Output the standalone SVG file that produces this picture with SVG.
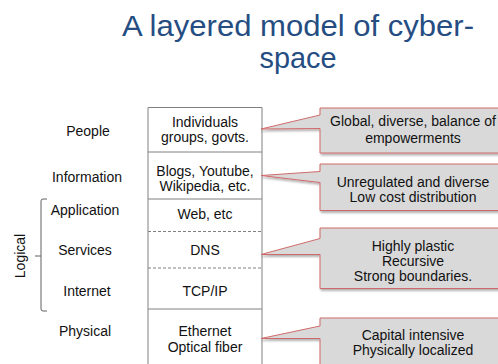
<svg xmlns="http://www.w3.org/2000/svg" width="498" height="364" viewBox="0 0 498 364">
<style>
text{font-family:"Liberation Sans",Arial,sans-serif;fill:#111;}
.t{font-size:14px;text-anchor:middle;}
.title{font-size:29px;fill:#254d82;text-anchor:middle;}
.solid{stroke:#808080;stroke-width:1;fill:none;}
.dash{stroke:#808080;stroke-width:1;stroke-dasharray:3,2;fill:none;}
.call{fill:#d9d9d9;stroke:#d06a6a;stroke-width:1;filter:url(#sh);}
</style>
<defs>
<filter id="sh" x="-10%" y="-10%" width="130%" height="140%">
<feDropShadow dx="1" dy="2" stdDeviation="1.2" flood-color="#000" flood-opacity="0.3"/>
</filter>
</defs>
<rect width="498" height="364" fill="#fff"/>
<g id="title">
<text class="title" x="298" y="36" textLength="352" lengthAdjust="spacingAndGlyphs">A layered model of cyber-</text>
<text class="title" x="298" y="68" textLength="77" lengthAdjust="spacingAndGlyphs">space</text>
</g>
<g id="labels">
<text class="t" x="88" y="136">People</text>
<text class="t" x="87" y="182">Information</text>
<text class="t" x="85" y="215">Application</text>
<text class="t" x="85" y="255">Services</text>
<text class="t" x="87" y="296">Internet</text>
<text class="t" x="85" y="336">Physical</text>
</g>
<g id="logical">
<path d="M47,199 L43,199 Q41,199 41,201 V309 Q41,311 43,311 L47,311 M41,256 L35,256" stroke="#606060" stroke-width="1" fill="none"/>
<text class="t" transform="translate(25,256) rotate(-90)" x="0" y="0">Logical</text>
</g>
<g id="stack">
<path class="solid" d="M148,370 V107.5 H262 V370 M148,152 H262 M148,199 H262 M148,309 H262"/>
<path class="dash" d="M148,231.5 H262 M148,268 H262"/>
<text class="t" x="205" y="127">Individuals</text>
<text class="t" x="205" y="142">groups, govts.</text>
<text class="t" x="205" y="176">Blogs, Youtube,</text>
<text class="t" x="205" y="191">Wikipedia, etc.</text>
<text class="t" x="205" y="219">Web, etc</text>
<text class="t" x="205" y="255">DNS</text>
<text class="t" x="205" y="296">TCP/IP</text>
<text class="t" x="205" y="336">Ethernet</text>
<text class="t" x="205" y="352">Optical fiber</text>
</g>
<g id="callout1">
<path class="call" d="M320,108 H510 V153 H320 V128.5 L261,129 L320,115 Z"/>
<text class="t" x="413" y="126">Global, diverse, balance of</text>
<text class="t" x="413" y="143">empowerments</text>
</g>
<g id="callout2">
<path class="call" d="M320,164 H510 V210.5 H320 V182.5 L261,175.5 L320,171.5 Z"/>
<text class="t" x="413" y="187">Unregulated and diverse</text>
<text class="t" x="413" y="202">Low cost distribution</text>
</g>
<g id="callout3">
<path class="call" d="M320,228 H510 V288.5 H320 V254.5 L261,254.5 L320,238.5 Z"/>
<text class="t" x="413" y="251">Highly plastic</text>
<text class="t" x="413" y="266">Recursive</text>
<text class="t" x="413" y="281">Strong boundaries.</text>
</g>
<g id="callout4">
<path class="call" d="M320,318 H510 V375 H320 V338.5 L261,338.5 L320,326 Z"/>
<text class="t" x="413" y="340">Capital intensive</text>
<text class="t" x="413" y="355">Physically localized</text>
</g>
</svg>
